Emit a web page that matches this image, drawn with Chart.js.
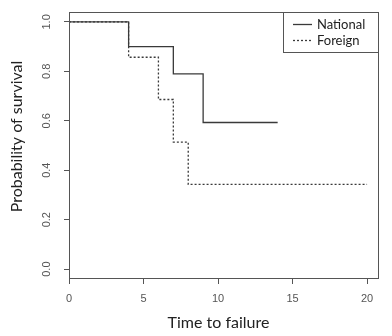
<!DOCTYPE html>
<html>
<head>
<meta charset="utf-8">
<style>
  html, body { margin: 0; padding: 0; background: #fff; }
  #wrap { width: 392px; height: 336px; }
</style>
<script src="https://cdn.jsdelivr.net/npm/chart.js@4.4.1/dist/chart.umd.min.js"></script>
</head>
<body>
<div id="wrap"><canvas id="c" width="392" height="336"></canvas></div>
<script>
// Kaplan-Meier survival estimates by group
const seriesNames = ['National', 'Foreign'];
const nationalTimes = [0, 4, 7, 9, 14];
const nationalSurvival = [1.0, 0.9, 0.79, 0.593, 0.593];
const foreignTimes = [0, 4, 6, 7, 8, 20];
const foreignSurvival = [1.0, 0.857, 0.686, 0.514, 0.343, 0.343];

// Axis ticks and titles
const xTicks = [0, 5, 10, 15, 20];
const yTicks = [0.0, 0.2, 0.4, 0.6, 0.8, 1.0];
const xTitle = 'Time to failure';
const yTitle = 'Probability of survival';

const toPoints = (xs, ys) => xs.map((x, i) => ({ x: x, y: ys[i] }));

const INK = '#3a3a3a';
const TICK_TEXT = '#555';
const TICK_FONT = '11px "Liberation Sans", Arial, sans-serif';
const TITLE_FONT = '16px Lato, "Open Sans", sans-serif';

// Full frame around the plotting region
const framePlugin = {
  id: 'frame',
  afterDatasetsDraw(chart) {
    const { ctx, chartArea: a } = chart;
    ctx.save();
    ctx.strokeStyle = '#555';
    ctx.lineWidth = 1;
    ctx.strokeRect(Math.round(a.left) + 0.5, Math.round(a.top) + 0.5,
                   Math.round(a.right - a.left) - 1, Math.round(a.bottom - a.top) - 1);
    ctx.restore();
  }
};

// Vertical y tick labels (reading bottom to top) and the two axis titles
const labelPlugin = {
  id: 'axisText',
  afterDraw(chart) {
    const { ctx, chartArea: a } = chart;
    const y = chart.scales.y;
    ctx.save();
    ctx.fillStyle = TICK_TEXT;
    ctx.font = TICK_FONT;
    ctx.textAlign = 'center';
    ctx.textBaseline = 'middle';
    yTicks.forEach(v => {
      const py = y.getPixelForValue(v);
      ctx.save();
      ctx.translate(y.left + 47, py);
      ctx.rotate(-Math.PI / 2);
      ctx.fillText(v.toFixed(1), 0, 0);
      ctx.restore();
    });

    ctx.fillStyle = '#222';
    ctx.font = TITLE_FONT;
    ctx.textBaseline = 'alphabetic';
    ctx.fillText(xTitle, (a.left + a.right) / 2 - 5.5, chart.height - 8.5);
    ctx.save();
    ctx.translate(22, (a.top + a.bottom) / 2 - 9);
    ctx.rotate(-Math.PI / 2);
    ctx.fillText(yTitle, 0, 0);
    ctx.restore();
    ctx.restore();
  }
};

// Boxed legend in the top-right corner of the plot
const legendPlugin = {
  id: 'boxLegend',
  afterDraw(chart) {
    const { ctx, chartArea: a } = chart;
    const w = 96, h = 41;
    const left = Math.round(a.right) - w, top = Math.round(a.top);
    ctx.save();
    ctx.fillStyle = '#fff';
    ctx.fillRect(left, top, w, h);
    ctx.strokeStyle = '#555';
    ctx.lineWidth = 1;
    ctx.strokeRect(left + 0.5, top + 0.5, w - 1, h - 1);
    ctx.font = '13px Lato, "Open Sans", sans-serif';
    ctx.textBaseline = 'middle';
    ctx.textAlign = 'left';
    chart.data.datasets.forEach((ds, i) => {
      const yy = top + 12.5 + i * 16;
      ctx.strokeStyle = ds.borderColor;
      ctx.lineWidth = ds.borderWidth;
      ctx.setLineDash(ds.borderDash || []);
      ctx.beginPath();
      ctx.moveTo(left + 10, yy);
      ctx.lineTo(left + 29, yy);
      ctx.stroke();
      ctx.setLineDash([]);
      ctx.fillStyle = '#222';
      ctx.fillText(ds.label, left + 34, yy);
    });
    ctx.restore();
  }
};

new Chart(document.getElementById('c'), {
  type: 'line',
  data: {
    datasets: [
      {
        label: seriesNames[0],
        data: toPoints(nationalTimes, nationalSurvival),
        borderColor: INK,
        borderWidth: 1.3,
        stepped: true,
        pointRadius: 0,
        fill: false
      },
      {
        label: seriesNames[1],
        data: toPoints(foreignTimes, foreignSurvival),
        borderColor: INK,
        borderWidth: 1.3,
        borderDash: [2, 2],
        stepped: true,
        pointRadius: 0,
        fill: false
      }
    ]
  },
  options: {
    responsive: false,
    animation: false,
    devicePixelRatio: 1,
    layout: { padding: { top: 12, right: 13, left: 0, bottom: 0 } },
    plugins: {
      legend: { display: false },
      tooltip: { enabled: false }
    },
    scales: {
      x: {
        type: 'linear',
        min: 0,
        max: 20.8,
        afterBuildTicks: s => { s.ticks = xTicks.map(v => ({ value: v })); },
        afterFit: s => { s.height = 57; },
        ticks: {
          color: TICK_TEXT,
          font: { family: '"Liberation Sans", Arial, sans-serif', size: 11 },
          padding: 8,
          maxRotation: 0,
          autoSkip: false,
          callback: v => String(v)
        },
        grid: { drawOnChartArea: false, drawTicks: true, tickLength: 5, color: '#555' },
        border: { display: false }
      },
      y: {
        type: 'linear',
        min: -0.04,
        max: 1.04,
        afterBuildTicks: s => { s.ticks = yTicks.map(v => ({ value: v })); },
        afterFit: s => { s.width = 69; },
        ticks: { display: false },
        grid: { drawOnChartArea: false, drawTicks: true, tickLength: 5, color: '#555' },
        border: { display: false }
      }
    }
  },
  plugins: [framePlugin, labelPlugin, legendPlugin]
});
</script>
</body>
</html>
